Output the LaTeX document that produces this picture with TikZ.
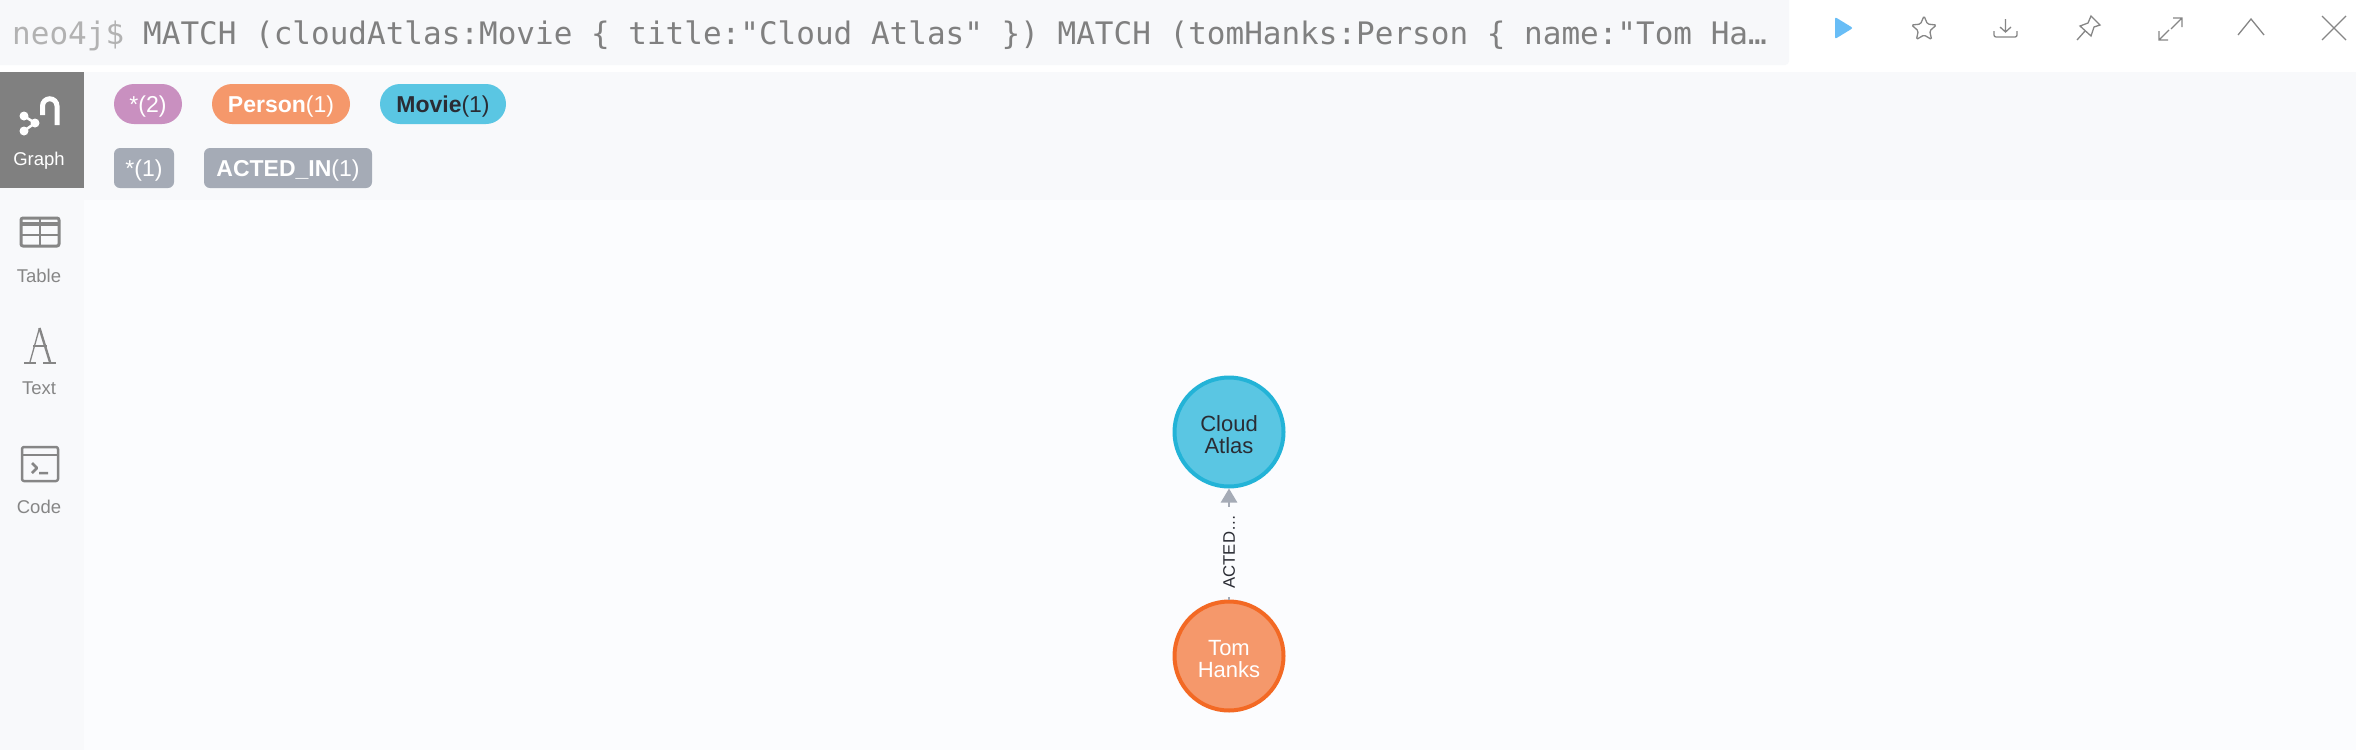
\documentclass[tikz,border=0pt]{standalone}
\usepackage{fontspec}
\setmainfont{Liberation Sans}
\newfontfamily\cyphercode{DejaVu Sans Mono}
\usetikzlibrary{arrows.meta}

\definecolor{barcol}{HTML}{F7F8FA}
\definecolor{panelcol}{HTML}{F8F9FB}
\definecolor{canvascol}{HTML}{FBFCFE}
\definecolor{tabcol}{HTML}{808080}
\definecolor{iconcol}{HTML}{868686}
\definecolor{starcol}{HTML}{C990C0}
\definecolor{personcol}{HTML}{F5986B}
\definecolor{personline}{HTML}{F36924}
\definecolor{moviecol}{HTML}{5AC6E3}
\definecolor{movieline}{HTML}{23B3D7}
\definecolor{relcol}{HTML}{A5ABB6}
\definecolor{darktext}{HTML}{2A2C34}
\definecolor{playcol}{HTML}{68BDF6}

\tikzset{
    pill/.style={rounded corners=20, minimum height=40, inner sep=0, text=white,
        text height=20, text depth=4, font=\fontsize{23}{23}\selectfont},
    relpill/.style={rounded corners=6, minimum height=40, inner sep=0, text=white, fill=relcol,
        text height=20, text depth=4, font=\fontsize{23}{23}\selectfont},
    sidelabel/.style={text=iconcol, inner sep=0, font=\fontsize{18.5}{18.5}\selectfont},
    graphnode/.style={circle, line width=4, minimum size=109, inner sep=0, align=center,
        text height=44, font=\fontsize{22}{22}\selectfont},
    actedin/.style={draw=relcol, line width=2.5, -{Triangle[length=14,width=16]}},
    actedlabel/.style={rotate=90, fill=canvascol, inner xsep=8.5, inner ysep=1, text=darktext,
        font=\fontsize{16.7}{17}\selectfont},
    iconline/.style={draw=iconcol, line width=2.5, line join=round},
    thinicon/.style={draw=iconcol, line width=1.3}
}

\begin{document}
\begin{tikzpicture}[x=1pt,y=-1pt]

    % Page, query bar and panels
    \useasboundingbox (0,0) rectangle (2356,750);
    \clip (0,0) rectangle (2356,750);
    \fill[white] (0,0) rectangle (2356,750);
    \fill[barcol, rounded corners=4] (-10,-10) rectangle (1789,65);
    \fill[panelcol] (0,72) rectangle (2356,750);
    \fill[canvascol] (84,200) rectangle (2356,750);
    \fill[tabcol] (0,72) rectangle (84,188);

    % Query text
    \node[anchor=base west, inner sep=0, text=gray!60, font=\cyphercode\fontsize{31}{31}\selectfont] (prompt) at (12,44) {neo4j\$};
    \node[anchor=base west, inner sep=0, text=gray, font=\cyphercode\fontsize{31}{31}\selectfont] (query) at (143,44)
        {MATCH (cloudAtlas:Movie \{ title:"Cloud Atlas" \}) MATCH (tomHanks:Person \{ name:"Tom Ha…};

    % Toolbar icons
    \fill[playcol, rounded corners=2] (1835,17) -- (1853,28) -- (1835,39) -- cycle;
    \draw[thinicon, rounded corners=1.5] (1924,16) -- (1927.5,24.1) -- (1936.4,25) -- (1929.7,30.9) -- (1931.6,39.5)
        -- (1924,35) -- (1916.4,39.5) -- (1918.3,30.9) -- (1911.6,25) -- (1920.5,24.1) -- cycle;
    \draw[thinicon] (2005.5,19) -- (2005.5,32) (2000,27) -- (2005.5,32) -- (2011,27);
    \draw[thinicon, rounded corners=2] (1994,31) -- (1994,37) -- (2017,37) -- (2017,31);
    \draw[thinicon] (2091,16) -- (2100,25) -- (2094,27) -- (2091,36) -- (2080,26) -- (2088,23) -- cycle;
    \draw[thinicon] (2077,40) -- (2085,31);
    \draw[thinicon] (2182,18) -- (2171,29) (2173,18) -- (2182,18) -- (2182,27);
    \draw[thinicon] (2159,40) -- (2169,30) (2159,31) -- (2159,40) -- (2168,40);
    \draw[thinicon] (2238,35) -- (2251,19) -- (2264,35);
    \draw[thinicon] (2322,16) -- (2346,40) (2346,16) -- (2322,40);

    % Graph tab icon
    \draw[white, line width=5] (42.5,115) -- (42.5,106) arc[start angle=180, end angle=360, radius=7.25] -- (57,125);
    \draw[white, line width=2.5] (24,116) -- (35,123) -- (24,131);
    \foreach \px/\py in {24/116, 24/131, 35/123}
        \fill[white] (\px,\py) circle (4.5);
    \node[sidelabel, text=white] (graphtab) at (39,161) {Graph};

    % Table icon
    \draw[iconline, line width=3, rounded corners=2] (21,218) rectangle (59,246);
    \draw[iconline, line width=3.5] (21,224) -- (59,224);
    \draw[iconline] (21,235) -- (59,235) (40,218) -- (40,246);
    \node[sidelabel] (tabletab) at (39,276) {Table};

    % Text icon
    \draw[thinicon] (30,362) -- (39.5,328);
    \draw[thinicon, line width=2.4] (39.5,328) -- (50,362);
    \draw[thinicon] (33,346) -- (47,346);
    \draw[thinicon, line width=1.6] (24,363) -- (36,363) (43,363) -- (56,363);
    \node[sidelabel] (texttab) at (39,388) {Text};

    % Code icon
    \draw[iconline, rounded corners=2] (22,447) rectangle (58,481);
    \draw[iconline] (22,455) -- (58,455);
    \draw[iconline] (32,463) -- (37,468) -- (32,473) (39,473) -- (48,473);
    \node[sidelabel] (codetab) at (39,507) {Code};

    % Legend
    \node[pill, fill=starcol, minimum width=68] (allnodes) at (148,104) {*(2)};
    \node[pill, fill=personcol, minimum width=138] (personpill) at (281,104) {\textbf{Person}(1)};
    \node[pill, fill=moviecol, minimum width=126, text=darktext] (moviepill) at (443,104) {\textbf{Movie}(1)};
    \node[relpill, minimum width=60] (allrels) at (144,168) {*(1)};
    \node[relpill, minimum width=168] (actedpill) at (288,168) {\textbf{ACTED\_IN}(1)};

    % Graph
    \node[graphnode, draw=movieline, fill=moviecol, text=darktext] (cloud) at (1229,432) {Cloud\\Atlas};
    \node[graphnode, draw=personline, fill=personcol, text=white] (tom) at (1229,656) {Tom\\Hanks};
    \draw[actedin] (tom) -- node[actedlabel, pos=.43] (acted) {ACTED…} (cloud);

\end{tikzpicture}
\end{document}
